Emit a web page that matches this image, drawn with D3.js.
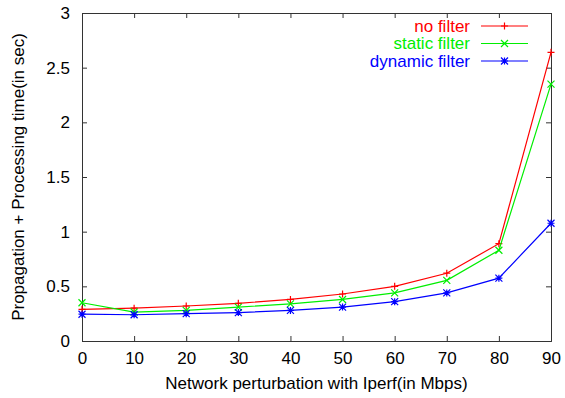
<!DOCTYPE html>
<html>
<head>
<meta charset="utf-8">
<script src="https://cdn.jsdelivr.net/npm/d3@7"></script>
<style>
  body { margin: 0; background: #fff; }
  text { font-family: "Liberation Sans", Arial, sans-serif; }
</style>
</head>
<body>
<svg width="565" height="398"></svg>
<script>
const perturbation = [0, 10, 20, 30, 40, 50, 60, 70, 80, 90];
const noFilter = [0.29, 0.30, 0.32, 0.345, 0.38, 0.43, 0.50, 0.62, 0.89, 2.64];
const staticFilter = [0.35, 0.265, 0.28, 0.31, 0.34, 0.38, 0.44, 0.555, 0.83, 2.35];
const dynamicFilter = [0.245, 0.24, 0.25, 0.26, 0.28, 0.31, 0.36, 0.44, 0.575, 1.077];
const yTicks = [0, 0.5, 1, 1.5, 2, 2.5, 3];

const series = [
  { name: 'no filter', values: noFilter, color: '#ff0000', marker: 'plus' },
  { name: 'static filter', values: staticFilter, color: '#00ee00', marker: 'cross' },
  { name: 'dynamic filter', values: dynamicFilter, color: '#0000ff', marker: 'star' }
];

const svg = d3.select('svg');
const margin = { left: 82, right: 14, top: 13, bottom: 57 };
const width = 565, height = 398;
const fs = 17;

const x = d3.scaleLinear().domain([0, 90]).range([margin.left, width - margin.right]);
const y = d3.scaleLinear().domain([0, 3]).range([height - margin.bottom, margin.top]);

const frame = '#333';

// axes with inward ticks on all four sides
svg.append('g')
    .attr('transform', `translate(0,${y(0)})`)
    .call(d3.axisBottom(x).tickValues(perturbation).tickSize(-5).tickPadding(11).tickFormat(d3.format('d')));
svg.append('g')
    .attr('transform', `translate(0,${y(3)})`)
    .call(d3.axisTop(x).tickValues(perturbation).tickSize(-5).tickFormat(''));
svg.append('g')
    .attr('transform', `translate(${x(0)},0)`)
    .call(d3.axisLeft(y).tickValues(yTicks).tickSize(-5).tickPadding(12).tickFormat(d3.format('')));
svg.append('g')
    .attr('transform', `translate(${x(90)},0)`)
    .call(d3.axisRight(y).tickValues(yTicks).tickSize(-5).tickFormat(''));

svg.selectAll('.domain').attr('stroke', frame);
svg.selectAll('.tick line').attr('stroke', frame);
svg.selectAll('.tick text').attr('font-size', fs).attr('fill', '#000')
    .attr('font-family', '"Liberation Sans", Arial, sans-serif');

// axis titles
svg.append('text')
    .attr('x', (x(0) + x(90)) / 2)
    .attr('y', 389)
    .attr('text-anchor', 'middle')
    .attr('font-size', fs)
    .text('Network perturbation with Iperf(in Mbps)');
svg.append('text')
    .attr('transform', `translate(24,${(y(0) + y(3)) / 2}) rotate(-90)`)
    .attr('text-anchor', 'middle')
    .attr('font-size', fs)
    .text('Propagation + Processing time(in sec)');

function markerPath(type, s) {
  if (type === 'plus') return `M${-s},0H${s}M0,${-s}V${s}`;
  if (type === 'cross') return `M${-s},${-s}L${s},${s}M${-s},${s}L${s},${-s}`;
  return `M${-s},0H${s}M0,${-s}V${s}M${-s},${-s}L${s},${s}M${-s},${s}L${s},${-s}`;
}

const line = d3.line()
    .x((d, i) => x(perturbation[i]))
    .y(d => y(d));

series.forEach(s => {
  const g = svg.append('g');
  g.append('path')
      .datum(s.values)
      .attr('fill', 'none')
      .attr('stroke', s.color)
      .attr('stroke-width', 1.2)
      .attr('d', line);
  g.selectAll('path.mk')
      .data(s.values)
      .enter().append('path')
        .attr('class', 'mk')
        .attr('transform', (d, i) => `translate(${x(perturbation[i])},${y(d)})`)
        .attr('d', markerPath(s.marker, 3.5))
        .attr('stroke', s.color)
        .attr('stroke-width', 1.2)
        .attr('fill', 'none');
});

// legend
const legend = svg.append('g');
series.forEach((s, i) => {
  const ly = 26 + i * 17.5;
  legend.append('text')
      .attr('x', 470)
      .attr('y', ly)
      .attr('dy', '0.35em')
      .attr('text-anchor', 'end')
      .attr('font-size', fs)
      .attr('fill', s.color)
      .text(s.name);
  legend.append('line')
      .attr('x1', 481).attr('x2', 528)
      .attr('y1', ly).attr('y2', ly)
      .attr('stroke', s.color)
      .attr('stroke-width', 1.2);
  legend.append('path')
      .attr('transform', `translate(504.5,${ly})`)
      .attr('d', markerPath(s.marker, 3.5))
      .attr('stroke', s.color)
      .attr('stroke-width', 1.2)
      .attr('fill', 'none');
});
</script>
</body>
</html>
